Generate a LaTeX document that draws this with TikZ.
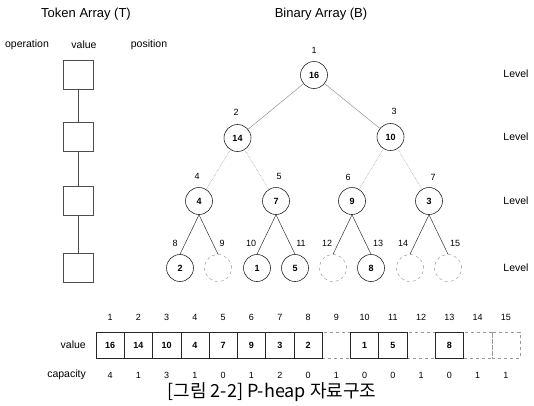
\documentclass[tikz,border=0pt]{standalone}
\usepackage{fontspec}
\setmainfont{Liberation Sans}
\newfontfamily\krfont{Noto Sans CJK KR}
\begin{document}
\begin{tikzpicture}[x=1pt,y=-1pt,
  txt/.style={inner sep=0pt, font=\fontsize{10.5}{13}\selectfont},
  ttl/.style={inner sep=0pt, font=\fontsize{13}{15}\selectfont},
  numlbl/.style={inner sep=0pt, font=\fontsize{9}{11}\selectfont},
  fullnode/.style={circle, draw=black!85, line width=0.6pt, minimum size=27pt, inner sep=0pt, font=\bfseries\fontsize{9}{11}\selectfont},
  hollownode/.style={circle, draw=black!40, dashed, line width=0.5pt, minimum size=27pt, inner sep=0pt},
  tokbox/.style={draw=black!70, line width=0.6pt, minimum width=30pt, minimum height=29pt, inner sep=0pt},
  cellfull/.style={draw=black!85, line width=0.6pt, minimum width=28.27pt, minimum height=26pt, inner sep=0pt, font=\bfseries\fontsize{9}{11}\selectfont},
  cellempty/.style={draw=black!40, dashed, line width=0.5pt, minimum width=28.27pt, minimum height=26pt, inner sep=0pt},
  edgeA/.style={draw=black!50, line width=0.4pt},
  edgeB/.style={draw=black!45, densely dotted, line width=0.5pt},
  edgeC/.style={draw=black!80, line width=0.5pt},
  tokline/.style={draw=black!70, line width=0.6pt},
]
\useasboundingbox (0,0) rectangle (534,405);

% headings
\node[ttl] (tA) at (86,14) {Token Array (T)};
\node[ttl] (tB) at (321,14) {Binary Array (B)};
\node[txt] (hop) at (27,45) {operation};
\node[txt] (hval) at (84,45) {value};
\node[txt] (hpos) at (149,45) {position};

% token array
\node[tokbox] (t1) at (78,75) {};
\node[tokbox] (t2) at (78,137) {};
\node[tokbox] (t3) at (78,201) {};
\node[tokbox] (t4) at (78,268) {};
\draw[tokline] (t1) -- (t2);
\draw[tokline] (t2) -- (t3);
\draw[tokline] (t3) -- (t4);

% binary heap
\node[fullnode] (n1) at (314,75) {16};
\node[fullnode] (n2) at (237.5,138) {14};
\node[fullnode] (n3) at (390.5,137) {10};
\node[fullnode] (n4) at (199,201) {4};
\node[fullnode] (n5) at (276,201) {7};
\node[fullnode] (n6) at (352,201) {9};
\node[fullnode] (n7) at (429,201) {3};
\node[fullnode] (n8) at (180,268) {2};
\node[hollownode] (n9) at (218,268) {};
\node[fullnode] (n10) at (257,268) {1};
\node[fullnode] (n11) at (295,268) {5};
\node[hollownode] (n12) at (333,268) {};
\node[fullnode] (n13) at (371,268) {8};
\node[hollownode] (n14) at (410,268) {};
\node[hollownode] (n15) at (448,268) {};

\draw[edgeA] (n1) -- (n2);
\draw[edgeA] (n1) -- (n3);
\draw[edgeB] (n2) -- (n4);
\draw[edgeB] (n2) -- (n5);
\draw[edgeB] (n3) -- (n6);
\draw[edgeB] (n3) -- (n7);
\foreach \p/\a/\b in {4/8/9, 5/10/11, 6/12/13, 7/14/15}{
  \draw[edgeC] (n\p.south) -- (n\a.north);
  \draw[edgeC] (n\p.south) -- (n\b.north);
}

% position labels
\node[numlbl] (i1) at (314,50) {1};
\node[numlbl] (i2) at (236,112) {2};
\node[numlbl] (i3) at (394,111) {3};
\node[numlbl] (i4) at (197,176) {4};
\node[numlbl] (i5) at (279,176) {5};
\node[numlbl] (i6) at (348,177) {6};
\node[numlbl] (i7) at (433,177) {7};
\node[numlbl] (i8) at (175,243) {8};
\node[numlbl] (i9) at (222,243) {9};
\node[numlbl] (i10) at (251,243) {10};
\node[numlbl] (i11) at (301,243) {11};
\node[numlbl] (i12) at (327,243) {12};
\node[numlbl] (i13) at (378,243) {13};
\node[numlbl] (i14) at (403,243) {14};
\node[numlbl] (i15) at (455,243) {15};

% level tags
\node[txt] (lv1) at (516,74) {Level};
\node[txt] (lv2) at (516,137) {Level};
\node[txt] (lv3) at (516,201) {Level};
\node[txt] (lv4) at (516,268) {Level};

% array B
\node[txt, anchor=east] (rv) at (86,345) {value};
\node[txt, anchor=east] (rc) at (86,375) {capacity};
\foreach \i in {9,12,14,15}{
  \pgfmathsetmacro\cx{96+28.27*(\i-0.5)}
  \node[cellempty] (c\i) at (\cx,345) {};
}
\foreach \i/\v in {1/16,2/14,3/10,4/4,5/7,6/9,7/3,8/2,10/1,11/5,13/8}{
  \pgfmathsetmacro\cx{96+28.27*(\i-0.5)}
  \node[cellfull] (c\i) at (\cx,345) {\v};
}
\foreach \i/\k in {1/4,2/1,3/3,4/1,5/0,6/1,7/2,8/0,9/1,10/0,11/0,12/1,13/0,14/1,15/1}{
  \pgfmathsetmacro\cx{96+28.27*(\i-0.5)}
  \node[numlbl] (x\i) at (\cx,317) {\i};
  \node[numlbl] (k\i) at (\cx,375) {\k};
}

% caption
\node[inner sep=0pt, font=\krfont\fontsize{18}{21}\selectfont] (cap) at (272,392) {[그림 2-2] P-heap 자료구조};
\end{tikzpicture}
\end{document}
